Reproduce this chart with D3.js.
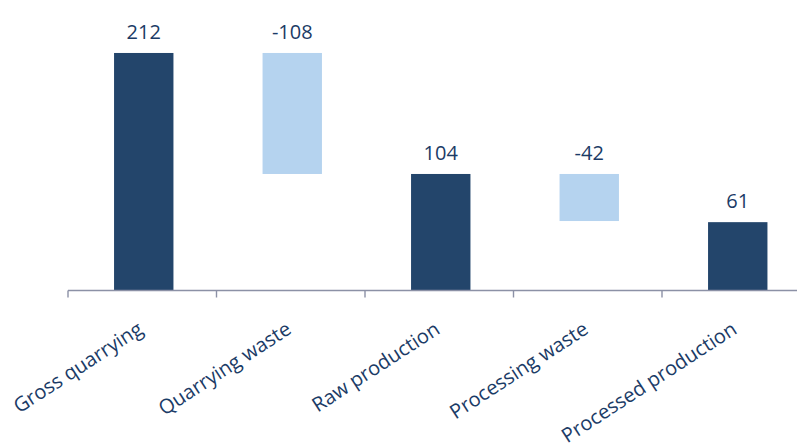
<!DOCTYPE html>
<html>
<head>
<meta charset="utf-8">
<script src="https://cdn.jsdelivr.net/npm/d3@7"></script>
<style>
  html, body { margin: 0; padding: 0; background: #ffffff; }
  svg { display: block; }
</style>
</head>
<body>
<svg id="chart" width="797" height="444"></svg>
<script>
// Waterfall: quarry output and losses
const categories = ["Gross quarrying", "Quarrying waste", "Raw production", "Processing waste", "Processed production"];
const values = [212, -108, 104, -42, 61];
const kinds = ["total", "delta", "total", "delta", "total"];

const W = 797, H = 444;
const svg = d3.select("#chart");

const x = d3.scaleBand()
  .domain(categories)
  .range([68, 810.5])
  .paddingInner(0.6)
  .paddingOuter(0.3);

const y = d3.scaleLinear()
  .domain([0, 250])
  .range([290.5, 10.4]);

// running level for waterfall segments
let level = 0;
const bars = categories.map((c, i) => {
  const v = values[i];
  let lo, hi;
  if (kinds[i] === "total") {
    lo = 0; hi = v; level = v;
  } else {
    const start = level, end = level + v;
    lo = Math.min(start, end); hi = Math.max(start, end);
    level = end;
  }
  return { cat: c, value: v, kind: kinds[i], lo, hi };
});

const dark = "#23456b";
const light = "#b5d3ef";
const textColor = "#1b3b66";
const axisColor = "#8c91a6";

svg.append("g").selectAll("rect")
  .data(bars)
  .join("rect")
  .attr("x", d => x(d.cat) + 1.5)
  .attr("width", x.bandwidth())
  .attr("y", d => y(d.hi))
  .attr("height", d => y(d.lo) - y(d.hi))
  .attr("fill", d => d.kind === "total" ? dark : light);

// value labels above each bar
svg.append("g").selectAll("text")
  .data(bars)
  .join("text")
  .attr("x", d => x(d.cat) + 1.5 + x.bandwidth() / 2)
  .attr("y", d => y(d.hi) - 14)
  .attr("text-anchor", "middle")
  .attr("fill", textColor)
  .style("font-family", "'Open Sans', sans-serif")
  .style("font-size", "20px")
  .text(d => d.value);

// category axis with ticks at band boundaries
const step = x.step();
const x0 = x.range()[0];
const axis = svg.append("g");
axis.append("line")
  .attr("x1", x0).attr("x2", W + 2)
  .attr("y1", y(0)).attr("y2", y(0))
  .attr("stroke", axisColor).attr("stroke-width", 1.4);
axis.selectAll("line.tick")
  .data(d3.range(categories.length + 1))
  .join("line")
  .attr("class", "tick")
  .attr("x1", i => x0 + i * step).attr("x2", i => x0 + i * step)
  .attr("y1", y(0)).attr("y2", y(0) + 7)
  .attr("stroke", axisColor).attr("stroke-width", 1.4);

axis.selectAll("text")
  .data(categories)
  .join("text")
  .attr("text-anchor", "end")
  .attr("transform", c => `translate(${x(c) + x.bandwidth() / 2 + 2},${y(0) + 42}) rotate(-33)`)
  .attr("fill", textColor)
  .style("font-family", "'Open Sans', sans-serif")
  .style("font-size", "20px")
  .text(c => c);
</script>
</body>
</html>
